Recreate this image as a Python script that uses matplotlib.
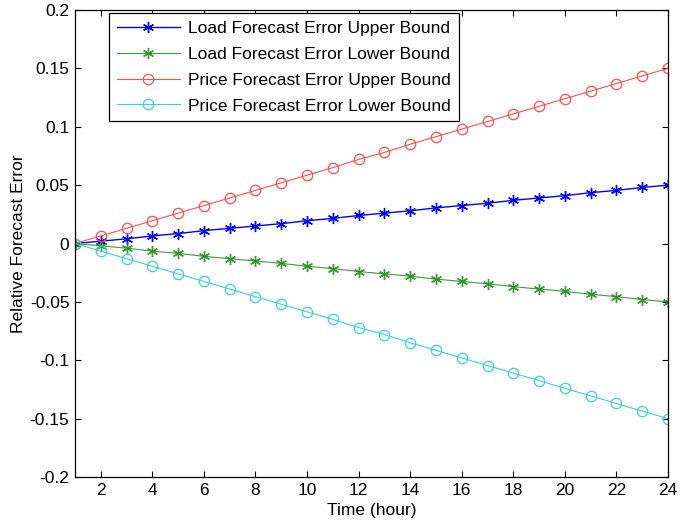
import matplotlib
matplotlib.use("Agg")
import matplotlib.pyplot as plt

hours = list(range(1, 25))
load_upper = [0, 0.002, 0.004, 0.0065, 0.0085, 0.011, 0.013, 0.015, 0.017, 0.0195,
              0.0215, 0.024, 0.026, 0.028, 0.0305, 0.0325, 0.0345, 0.037, 0.039, 0.041,
              0.0435, 0.0455, 0.048, 0.05]
load_lower = [-v for v in load_upper]
price_upper = [0, 0.0065, 0.013, 0.0195, 0.026, 0.0325, 0.039, 0.0455, 0.052, 0.0585,
               0.065, 0.072, 0.078, 0.085, 0.0915, 0.098, 0.1045, 0.111, 0.1175, 0.124,
               0.1305, 0.137, 0.1435, 0.15]
price_lower = [-v for v in price_upper]

labels = ["Load Forecast Error Upper Bound", "Load Forecast Error Lower Bound",
          "Price Forecast Error Upper Bound", "Price Forecast Error Lower Bound"]

plt.rcParams['font.family'] = ['Liberation Sans', 'DejaVu Sans']
fig = plt.figure(figsize=(6.8, 5.25), dpi=100)
ax = fig.add_axes([75/680, 48/525, 593/680, 467/525])

ast = (6, 2, 0)
ax.plot(hours, load_upper, color='#0000ff', marker=ast, markersize=8, mew=1.0, lw=1.0, label=labels[0])
ax.plot(hours, load_lower, color='#1a8a1a', marker=ast, markersize=8, mew=1.0, lw=0.8, alpha=0.85, label=labels[1])
ax.plot(hours, price_upper, color='#ff5050', marker='o', markersize=7.5, mfc='none', mew=0.9, lw=0.8, label=labels[2])
ax.plot(hours, price_lower, color='#40d0d0', marker='o', markersize=7.5, mfc='none', mew=0.9, lw=0.8, label=labels[3])

ax.set_xlim(1, 24)
ax.set_ylim(-0.2, 0.2)
ax.set_xticks(list(range(2, 25, 2)))
ax.set_yticks([-0.2, -0.15, -0.1, -0.05, 0, 0.05, 0.1, 0.15, 0.2])
ax.set_yticklabels(['-0.2', '-0.15', '-0.1', '-0.05', '0', '0.05', '0.1', '0.15', '0.2'])
ax.tick_params(direction='in', top=True, right=True, labelsize=12.5, length=4, width=0.8, pad=4)
for s in ax.spines.values():
    s.set_linewidth(0.9)
ax.set_xlabel('Time (hour)', fontsize=12.5, labelpad=4)
ax.set_ylabel('Relative Forecast Error', fontsize=12.5, labelpad=3)

leg = ax.legend(loc='upper left', bbox_to_anchor=(0.058, 0.994), fontsize=12.5, frameon=True,
                fancybox=False, edgecolor='black', framealpha=1, handlelength=3.6,
                handletextpad=0.5, borderpad=0.45, labelspacing=0.62, borderaxespad=0)
leg.get_frame().set_linewidth(0.9)

fig.savefig('out.png', dpi=100)
